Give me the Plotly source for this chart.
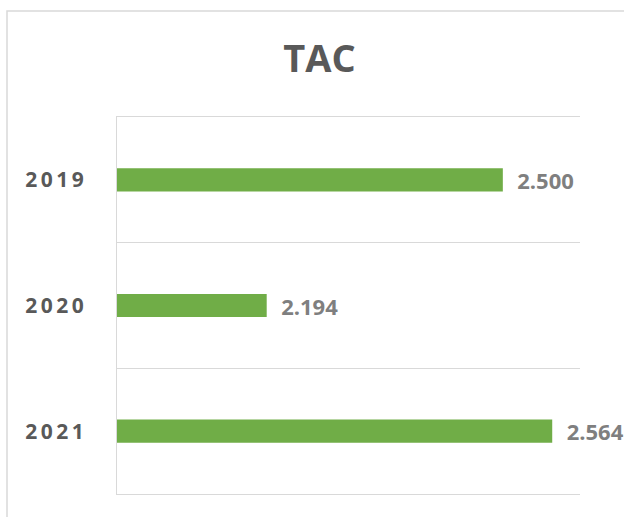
import plotly.graph_objects as go

categories = ["2019", "2020", "2021"]
values = [2500, 2194, 2564]
title_text = "TAC"

W, H = 624, 517
ml, mr, mt, mb = 117, 44, 117, 23
pw, ph = W - ml - mr, H - mt - mb

fig = go.Figure(go.Bar(
    y=categories,
    x=values,
    orientation="h",
    marker=dict(color="#70AD47", line=dict(width=0)),
    texttemplate="\u00a0\u00a0%{x:,d}",
    textposition="outside",
    textfont=dict(family="Open Sans", size=22, color="#7F7F7F", weight="bold"),
    constraintext="none",
    cliponaxis=False,
    hoverinfo="skip",
))

fig.update_layout(
    width=W, height=H,
    margin=dict(l=ml, r=mr, t=mt, b=mb, pad=0),
    paper_bgcolor="white", plot_bgcolor="white",
    separators=",.",
    bargap=0.815,
    showlegend=False,
    title=dict(text="<b>" + title_text + "</b>", x=0.512, xref="container", xanchor="center",
               y=1 - 58.5 / H, yanchor="middle",
               font=dict(family="Open Sans", size=38, color="#595959")),
    xaxis=dict(range=[2000, 2600], visible=True, showticklabels=False, showgrid=False,
               zeroline=False, showline=True, mirror=True, linecolor="#D9D9D9", linewidth=1,
               ticks=""),
    yaxis=dict(type="category", autorange="reversed", tickson="boundaries",
               showgrid=True, gridcolor="#D9D9D9", gridwidth=1,
               showline=True, linecolor="#D9D9D9", linewidth=1,
               ticks="", ticklen=0,
               tickvals=categories,
               ticktext=["\u2009".join(c) for c in categories],
               tickfont=dict(family="Open Sans", size=21, color="#595959", weight="bold"),
               ticklabelstandoff=28),
    shapes=[dict(type="rect", xref="paper", yref="paper",
                 x0=(7 - ml) / pw, x1=(W + 10 - ml) / pw,
                 y0=(H - mb - (H + 10)) / ph, y1=1 + (mt - 11) / ph,
                 line=dict(color="#D9D9D9", width=1.5), fillcolor="rgba(0,0,0,0)", layer="below")],
)

fig.write_html("out.html", config={"displayModeBar": False},
               post_script="document.body.style.margin='0';")
